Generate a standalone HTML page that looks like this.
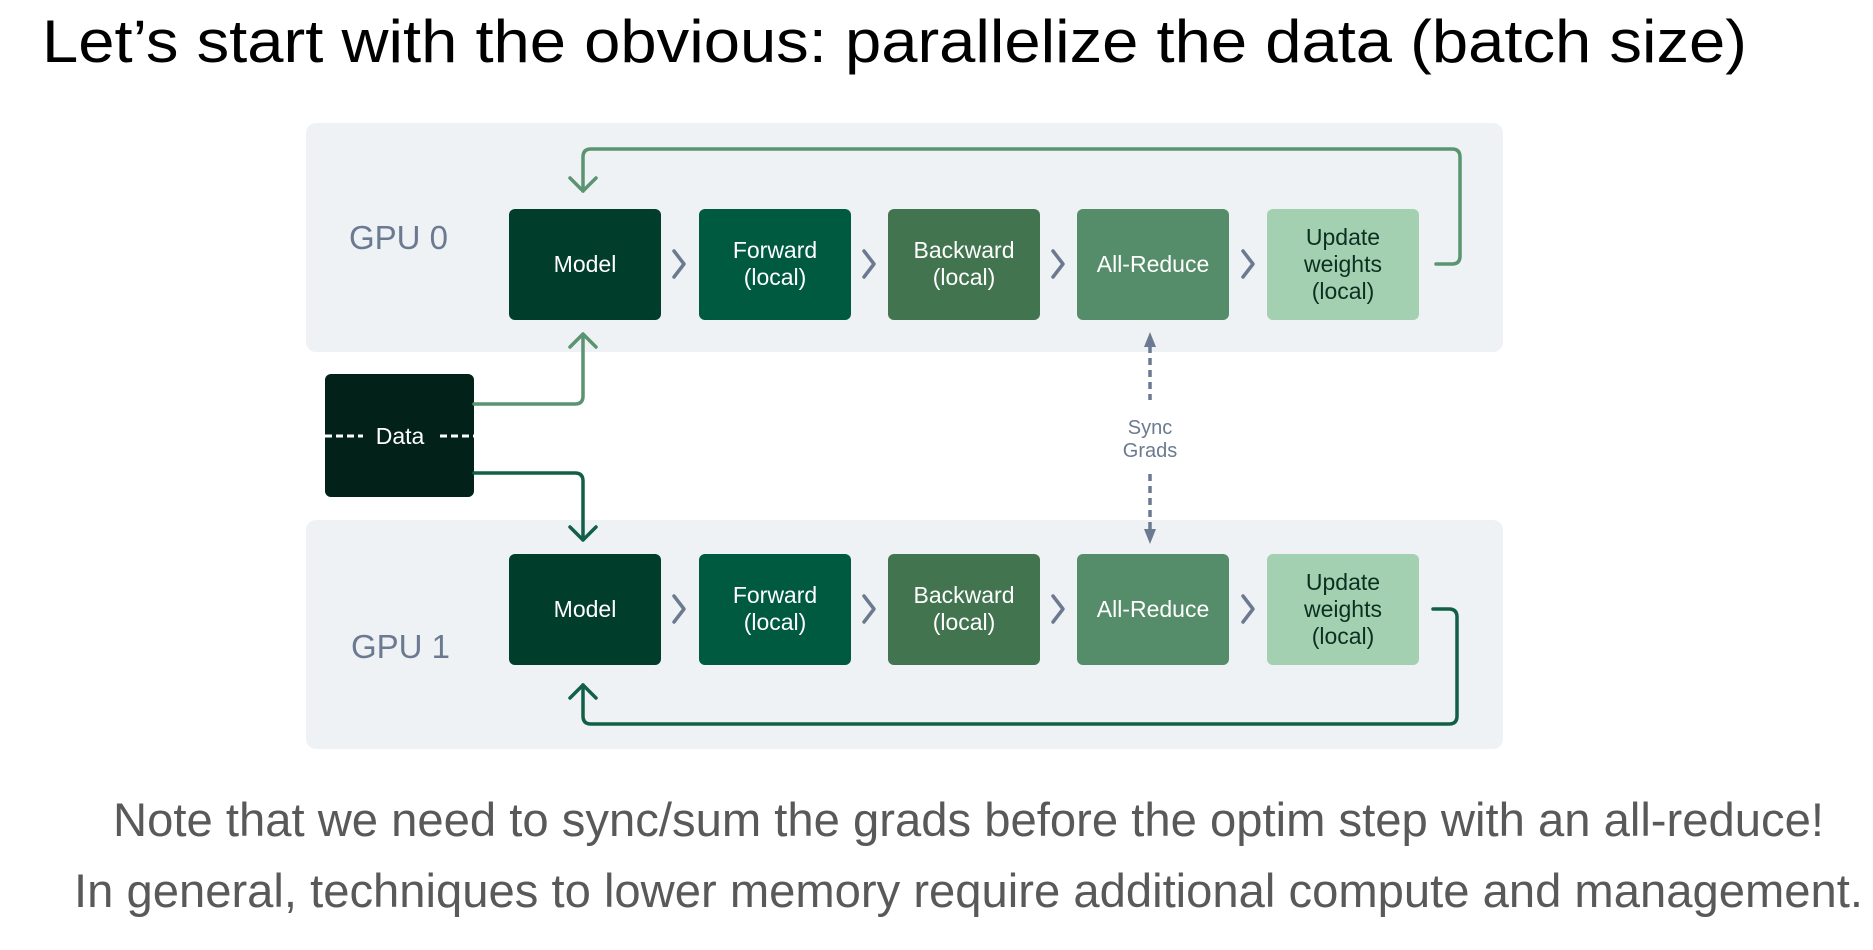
<!DOCTYPE html>
<html><head><meta charset="utf-8"><style>
html,body{margin:0;padding:0;background:#fff;}
svg{display:block;}
</style></head><body>
<svg width="1873" height="950" viewBox="0 0 1873 950" xmlns="http://www.w3.org/2000/svg">
<text x="42" y="62" font-family="Liberation Sans, sans-serif" font-size="60" fill="#000" textLength="1705" lengthAdjust="spacingAndGlyphs">Let’s start with the obvious: parallelize the data (batch size)</text>

<rect x="306" y="123" width="1197" height="229" rx="10" fill="#eff2f5"/>
<rect x="306" y="520" width="1197" height="229" rx="10" fill="#eff2f5"/>

<text x="349" y="249" font-family="Liberation Sans, sans-serif" font-size="33" fill="#6b7a90">GPU 0</text>
<text x="351" y="658" font-family="Liberation Sans, sans-serif" font-size="33" fill="#6b7a90">GPU 1</text>

<g font-family="Liberation Sans, sans-serif" font-size="23" text-anchor="middle">
<rect x="509" y="209" width="152" height="111" rx="6" fill="#003d2b"/>
<text x="585" y="272" fill="#fff">Model</text>
<rect x="699" y="209" width="152" height="111" rx="6" fill="#005a40"/>
<text x="775" y="258" fill="#fff">Forward</text><text x="775" y="285" fill="#fff">(local)</text>
<rect x="888" y="209" width="152" height="111" rx="6" fill="#41744f"/>
<text x="964" y="258" fill="#fff">Backward</text><text x="964" y="285" fill="#fff">(local)</text>
<rect x="1077" y="209" width="152" height="111" rx="6" fill="#558d6a"/>
<text x="1153" y="272" fill="#fff">All-Reduce</text>
<rect x="1267" y="209" width="152" height="111" rx="6" fill="#a2d0b0"/>
<text x="1343" y="245" fill="#0d2f22">Update</text><text x="1343" y="272" fill="#0d2f22">weights</text><text x="1343" y="299" fill="#0d2f22">(local)</text>
<rect x="509" y="554" width="152" height="111" rx="6" fill="#003d2b"/>
<text x="585" y="617" fill="#fff">Model</text>
<rect x="699" y="554" width="152" height="111" rx="6" fill="#005a40"/>
<text x="775" y="603" fill="#fff">Forward</text><text x="775" y="630" fill="#fff">(local)</text>
<rect x="888" y="554" width="152" height="111" rx="6" fill="#41744f"/>
<text x="964" y="603" fill="#fff">Backward</text><text x="964" y="630" fill="#fff">(local)</text>
<rect x="1077" y="554" width="152" height="111" rx="6" fill="#558d6a"/>
<text x="1153" y="617" fill="#fff">All-Reduce</text>
<rect x="1267" y="554" width="152" height="111" rx="6" fill="#a2d0b0"/>
<text x="1343" y="590" fill="#0d2f22">Update</text><text x="1343" y="617" fill="#0d2f22">weights</text><text x="1343" y="644" fill="#0d2f22">(local)</text>
</g>

<g fill="none" stroke="#6b7a90" stroke-width="3.5" stroke-linecap="round" stroke-linejoin="round">
<polyline points="674,251 684,264 674,277"/><polyline points="864,251 874,264 864,277"/>
<polyline points="1053,251 1063,264 1053,277"/><polyline points="1243,251 1253,264 1243,277"/>
<polyline points="674,596 684,609 674,622"/><polyline points="864,596 874,609 864,622"/>
<polyline points="1053,596 1063,609 1053,622"/><polyline points="1243,596 1253,609 1243,622"/>
</g>

<rect x="325" y="374" width="149" height="123" rx="6" fill="#022219"/>
<g stroke="#fff" stroke-width="3" stroke-dasharray="7,4">
<line x1="325" y1="436" x2="363" y2="436"/><line x1="440" y1="436" x2="474" y2="436"/>
</g>
<text x="400" y="444" font-family="Liberation Sans, sans-serif" font-size="23" fill="#fff" text-anchor="middle">Data</text>

<g fill="none" stroke-width="3.5" stroke-linejoin="round" stroke-linecap="round">
<path d="M1436 264 H1452 Q1460 264 1460 256 V157 Q1460 149 1452 149 H591 Q583 149 583 157 V191" stroke="#5a9470"/>
<polyline points="570,178 583,191 596,178" stroke="#5a9470"/>
<path d="M474 404 H575 Q583 404 583 396 V336" stroke="#5a9470"/>
<polyline points="570,347 583,334 596,347" stroke="#5a9470"/>
<path d="M474 473 H575 Q583 473 583 481 V539" stroke="#116046"/>
<polyline points="570,527 583,540 596,527" stroke="#116046"/>
<path d="M1433 609 H1449 Q1457 609 1457 617 V716 Q1457 724 1449 724 H591 Q583 724 583 716 V685" stroke="#116046"/>
<polyline points="570,698 583,685 596,698" stroke="#116046"/>
</g>

<g stroke="#6b7a90" stroke-width="3.5" stroke-dasharray="7,5" fill="none">
<line x1="1150" y1="346" x2="1150" y2="400"/><line x1="1150" y1="474" x2="1150" y2="530"/>
</g>
<polygon points="1144,347 1156,347 1150,332" fill="#6b7a90"/>
<polygon points="1144,529 1156,529 1150,544" fill="#6b7a90"/>
<text x="1150" y="434" font-family="Liberation Sans, sans-serif" font-size="20" fill="#6b7a90" text-anchor="middle">Sync</text>
<text x="1150" y="457" font-family="Liberation Sans, sans-serif" font-size="20" fill="#6b7a90" text-anchor="middle">Grads</text>

<text x="113" y="836" font-family="Liberation Sans, sans-serif" font-size="47" fill="#595959" textLength="1711" lengthAdjust="spacingAndGlyphs">Note that we need to sync/sum the grads before the optim step with an all-reduce!</text>
<text x="74" y="907" font-family="Liberation Sans, sans-serif" font-size="47" fill="#595959" textLength="1789" lengthAdjust="spacingAndGlyphs">In general, techniques to lower memory require additional compute and management.</text>
</svg>
</body></html>
